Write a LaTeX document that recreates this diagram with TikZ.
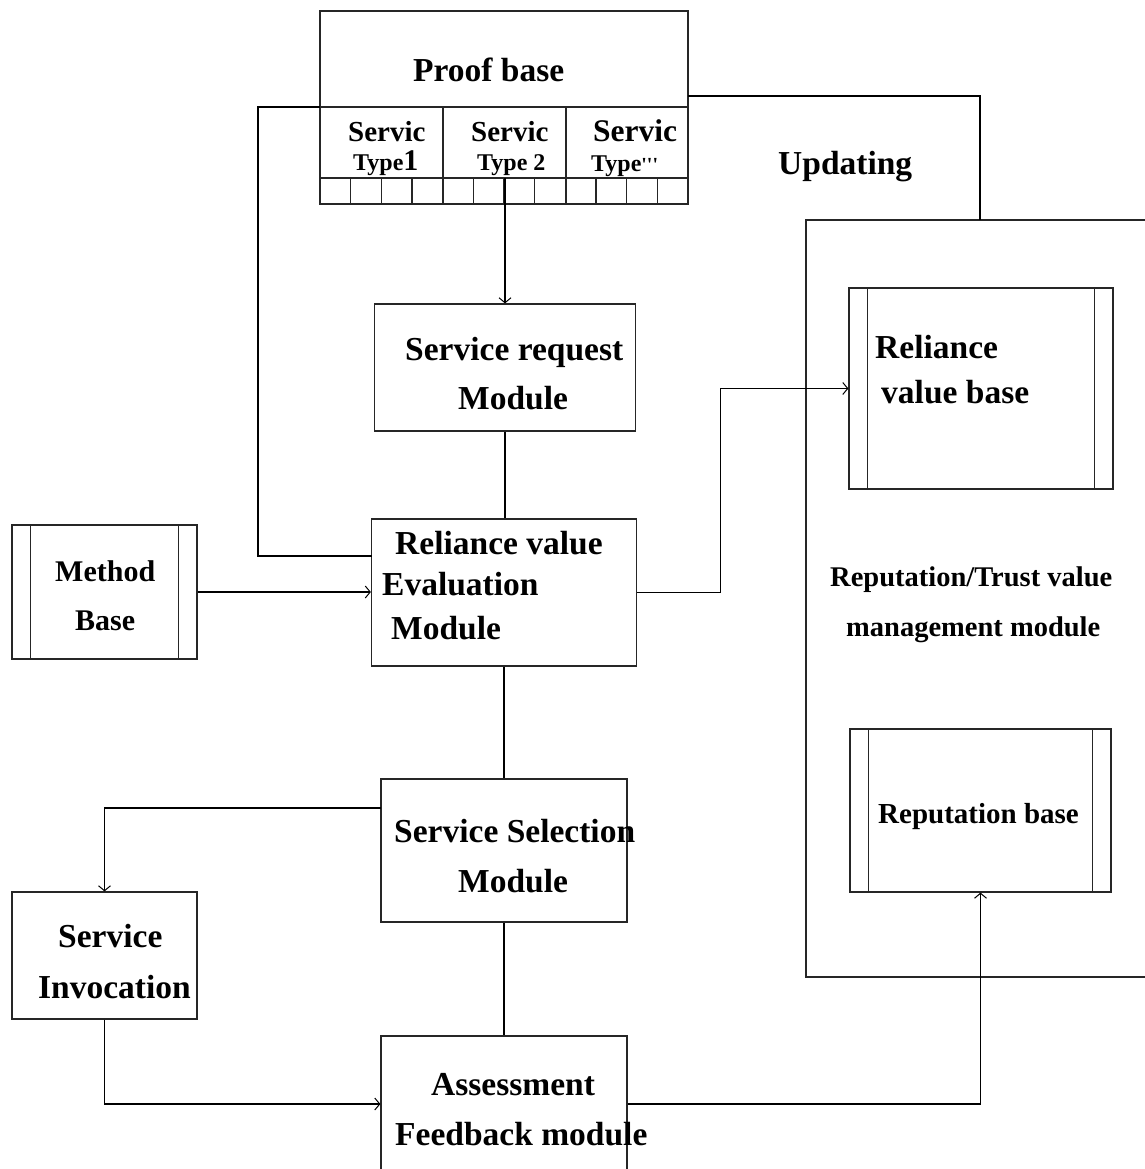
\documentclass[tikz,border=0pt]{standalone}
\usepackage{fontspec}
\setmainfont{Liberation Serif}
\usetikzlibrary{arrows.meta}
\newcommand\fs[1]{\fontsize{#1}{#1}\selectfont}
\begin{document}
\begin{tikzpicture}[x=1pt,y=-1pt,
  box/.style={draw=black!85, line width=1.2pt, inner sep=0pt},
  base/.style={box, path picture={
     \draw[line width=1.2pt,black!85]
       ([xshift=18.5pt]path picture bounding box.north west) -- ([xshift=18.5pt]path picture bounding box.south west)
       ([xshift=-18.5pt]path picture bounding box.north east) -- ([xshift=-18.5pt]path picture bounding box.south east);}},
  conn/.style={draw=black, line width=1.2pt},
  arr/.style={conn, -{Straight Barb[length=5pt,width=12pt,line width=1pt]}},
  lab/.style={anchor=base west, inner sep=0pt, font=\bfseries\fs{33.5}},
  slab/.style={anchor=base west, inner sep=0pt, font=\bfseries\fs{29}},
  tlab/.style={anchor=base west, inner sep=0pt, font=\bfseries\fs{24}}]
\useasboundingbox (0,0) rectangle (1144,1169);
\fill[white] (0,0) rectangle (1144,1169);

% ---- boxes ----
\node[box, minimum width=368pt, minimum height=193pt] (pb) at (504,107.5) {};
\node[box, minimum width=261pt, minimum height=127pt] (req) at (505,367.5) {};
\node[box, minimum width=265pt, minimum height=147pt] (eval) at (504,592.5) {};
\node[base, minimum width=185pt, minimum height=134pt] (mb) at (104.5,592) {};
\node[box, minimum width=246pt, minimum height=143pt] (sel) at (504,850.5) {};
\node[box, minimum width=185pt, minimum height=127pt] (inv) at (104.5,955.5) {};
\node[box, minimum width=246pt, minimum height=136pt] (fb) at (504,1104) {};
\node[box, minimum width=360pt, minimum height=757pt] (mgmt) at (986,598.5) {};
\node[base, minimum width=264pt, minimum height=201pt] (rvb) at (981,388.5) {};
\node[base, minimum width=261pt, minimum height=163pt] (rb) at (980.5,810.5) {};

% ---- proof base internals ----
\draw[box] (320,107) -- (688,107);
\draw[box] (320,178) -- (688,178);
\draw[box] (443,107) -- (443,204);
\draw[box] (566,107) -- (566,204);
\foreach \i in {1,2,3,5,6,7,9,10,11}
  \draw[box] ({320+\i*30.667},178) -- ({320+\i*30.667},204);

% ---- connectors ----
\coordinate (pbdiv) at (320,107);
\coordinate (evalL) at (371.5,556);
\coordinate (pbR) at (688,96);
\coordinate (mgmtT) at (980,220);
\coordinate (t2) at (505,178);
\coordinate (selL) at (381,808);

\draw[conn] (pbdiv) -- ++(-62,0) |- (evalL);
\draw[conn] (pbR) -| (mgmtT);
\draw[arr] (t2) -- (t2 |- req.north);
\draw[conn] (req.south) -- (req.south |- eval.north);
\draw[arr] (mb.east) -- (mb.east -| eval.west);
\draw[arr] (eval.east) -- ++(83,0) |- (rvb.west);
\draw[conn] (eval.south) -- (eval.south |- sel.north);
\draw[arr] (selL) -| (inv.north);
\draw[arr] (inv.south) |- (fb.west);
\draw[conn] (sel.south) -- (fb.north);
\draw[arr] (fb.east) -| (rb.south);

% ---- labels ----
\node[lab] (tpb) at (413,82) {Proof base};
\node[slab] (ts1) at (348,142) {Servic};
\node[tlab] (tt1) at (353,171) {Type{\fs{30}1}};
\node[slab] (ts2) at (471,142) {Servic};
\node[tlab] (tt2) at (477,171) {Type 2};
\node[slab, font=\bfseries\fs{31.5}] (ts3) at (593,142) {Servic};
\node[tlab] (tt3) at (591,172) {Type{\fs{20}\textquotesingle\textquotesingle\textquotesingle}};
\node[lab] (tup) at (778,175) {Updating};

\node[lab] (treq1) at (405,360) {Service request};
\node[lab] (treq2) at (458,409) {Module};

\node[lab] (tev1) at (395,554) {Reliance value};
\node[lab] (tev2) at (382,595) {Evaluation};
\node[lab] (tev3) at (391,639) {Module};

\node[slab, font=\bfseries\fs{30}] (tmb1) at (55,581) {Method};
\node[slab, font=\bfseries\fs{30}] (tmb2) at (75,630) {Base};

\node[lab] (trv1) at (875,358) {Reliance};
\node[lab] (trv2) at (881,403) {value base};

\node[slab, font=\bfseries\fs{28.5}] (tm1) at (830,586) {Reputation/Trust value};
\node[slab, font=\bfseries\fs{28.5}] (tm2) at (846,636) {management module};

\node[slab] (trb) at (878,823) {Reputation base};

\node[lab] (tsel1) at (394,842) {Service Selection};
\node[lab] (tsel2) at (458,892) {Module};

\node[lab] (tinv1) at (58,947) {Service};
\node[lab] (tinv2) at (38,998) {Invocation};

\node[lab] (tfb1) at (431,1095) {Assessment};
\node[lab] (tfb2) at (395,1145) {Feedback module};
\end{tikzpicture}
\end{document}
